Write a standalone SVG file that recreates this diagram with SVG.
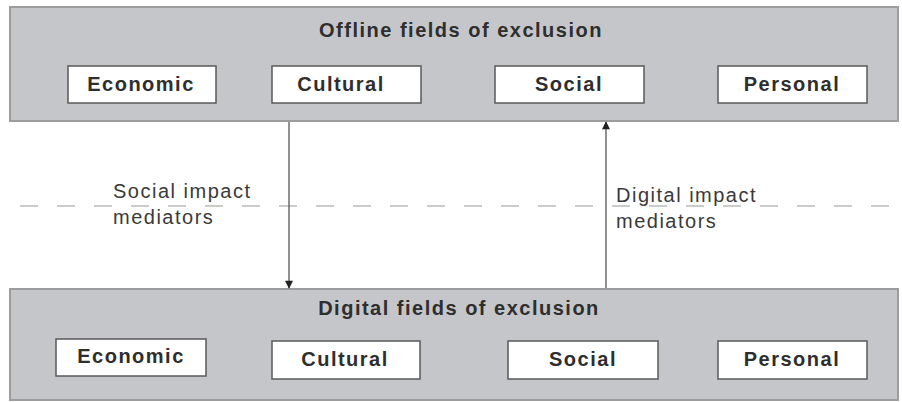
<svg xmlns="http://www.w3.org/2000/svg" width="902" height="402" viewBox="0 0 902 402">
<style>
.panel{fill:#c5c6ca;stroke:#9c9c9e;stroke-width:2}
.box{fill:#ffffff;stroke:#5a5a5a;stroke-width:1.5}
.title{font-family:"Liberation Sans",Arial,sans-serif;font-size:20px;font-weight:bold;letter-spacing:1.5px;fill:#2e2e2e;text-anchor:middle}
.lbl{font-family:"Liberation Sans",Arial,sans-serif;font-size:20px;font-weight:bold;letter-spacing:1.5px;fill:#2e2e2e;text-anchor:middle}
.med{font-family:"Liberation Sans",Arial,sans-serif;font-size:20px;letter-spacing:1.5px;fill:#3a3a3a}
.conn{stroke:#555;stroke-width:1.3;fill:none}
</style>
<defs>
<marker id="ah" viewBox="0 0 10 10" refX="9" refY="5" markerWidth="9" markerHeight="8" orient="auto" markerUnits="userSpaceOnUse">
<path d="M0,0 L10,5 L0,10 z" fill="#222"/>
</marker>
</defs>
<line x1="20" y1="206" x2="900" y2="206" stroke="#cbcbcb" stroke-width="2" stroke-dasharray="18,19"/>
<g id="offline">
<rect class="panel" x="10" y="7" width="888" height="114"/>
<text class="title" x="461" y="37">Offline fields of exclusion</text>
</g>
<g id="off-economic"><rect class="box" x="68" y="66" width="148" height="37"/><text class="lbl" x="141" y="91">Economic</text></g>
<g id="off-cultural"><rect class="box" x="272" y="66" width="149" height="37"/><text class="lbl" x="341" y="91">Cultural</text></g>
<g id="off-social"><rect class="box" x="495" y="66" width="149" height="37"/><text class="lbl" x="569" y="91">Social</text></g>
<g id="off-personal"><rect class="box" x="718" y="66" width="149" height="37"/><text class="lbl" x="792" y="91">Personal</text></g>
<g id="digital">
<rect class="panel" x="10" y="289" width="888" height="111"/>
<text class="title" x="459" y="315">Digital fields of exclusion</text>
</g>
<g id="dig-economic"><rect class="box" x="56" y="339" width="150" height="37"/><text class="lbl" x="131" y="363">Economic</text></g>
<g id="dig-cultural"><rect class="box" x="272" y="341" width="148" height="38"/><text class="lbl" x="345" y="366">Cultural</text></g>
<g id="dig-social"><rect class="box" x="508" y="341" width="150" height="38"/><text class="lbl" x="583" y="366">Social</text></g>
<g id="dig-personal"><rect class="box" x="718" y="341" width="149" height="38"/><text class="lbl" x="792" y="366">Personal</text></g>
<g id="connectors">
<line class="conn" x1="289" y1="122" x2="289" y2="288" marker-end="url(#ah)"/>
<line class="conn" x1="606" y1="288" x2="606" y2="122" marker-end="url(#ah)"/>
</g>
<g id="labels">
<text class="med" x="113" y="198">Social impact</text>
<text class="med" x="113" y="224">mediators</text>
<text class="med" x="616" y="202">Digital impact</text>
<text class="med" x="616" y="228">mediators</text>
</g>
</svg>
